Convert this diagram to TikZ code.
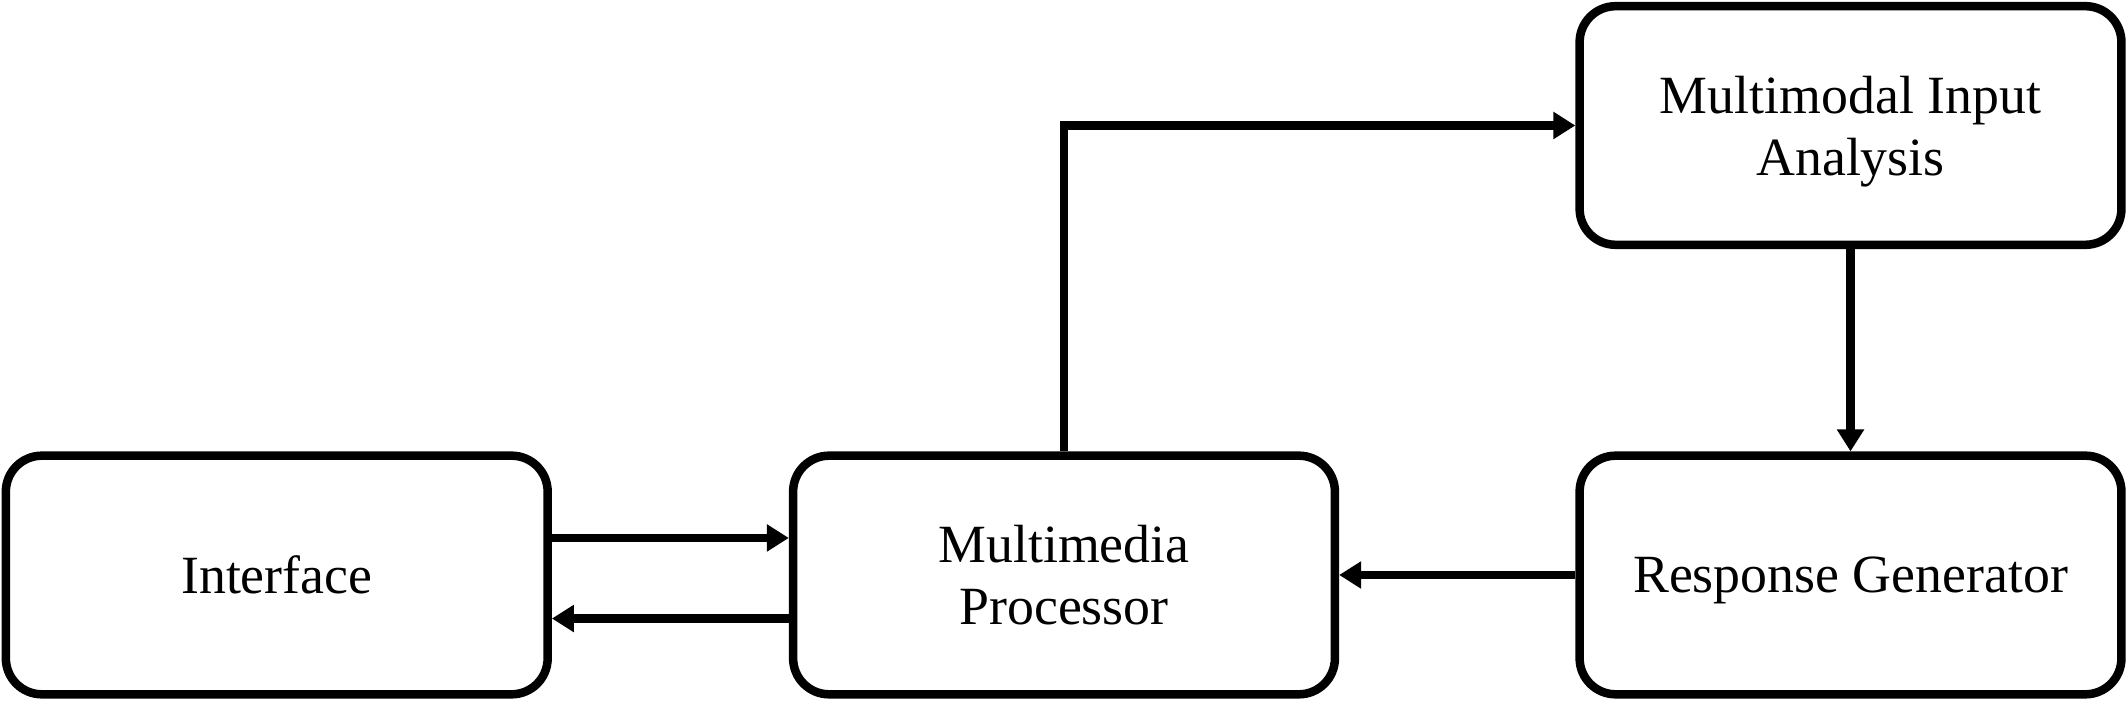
\documentclass[tikz,border=0pt]{standalone}
\usepackage{fontspec}
\setmainfont{Liberation Serif}
\usetikzlibrary{arrows.meta}
\begin{document}
\begin{tikzpicture}[x=0.01cm,y=-0.01cm,
  box/.style={draw, line width=0.085cm, rounded corners=0.36cm,
    minimum width=5.415cm, minimum height=2.385cm, inner sep=0pt,
    text depth=0pt,
    align=center, font=\fontsize{15.3}{17.6}\selectfont},
  conn/.style={line width=0.088cm, -{Triangle[length=0.22cm,width=0.26cm]}}]
\useasboundingbox (0,0) rectangle (2128,701);
\node[box] (iface) at (276.75,575) {Interface};
\node[box] (mp) at (1064,575) {Multimedia\\Processor};
\node[box] (rg) at (1850.5,575) {Response Generator};
\node[box] (mia) at (1850.5,125.5) {Multimodal Input\\Analysis};
\draw[conn] ([yshift=0.37cm]iface.east) -- ([yshift=0.37cm]mp.west);
\draw[conn] ([yshift=-0.435cm]mp.west) -- ([yshift=-0.435cm]iface.east);
\draw[conn] (rg.west) -- (mp.east);
\draw[conn] (mp.north) |- (mia.west);
\draw[conn] (mia.south) -- (rg.north);
\end{tikzpicture}
\end{document}
